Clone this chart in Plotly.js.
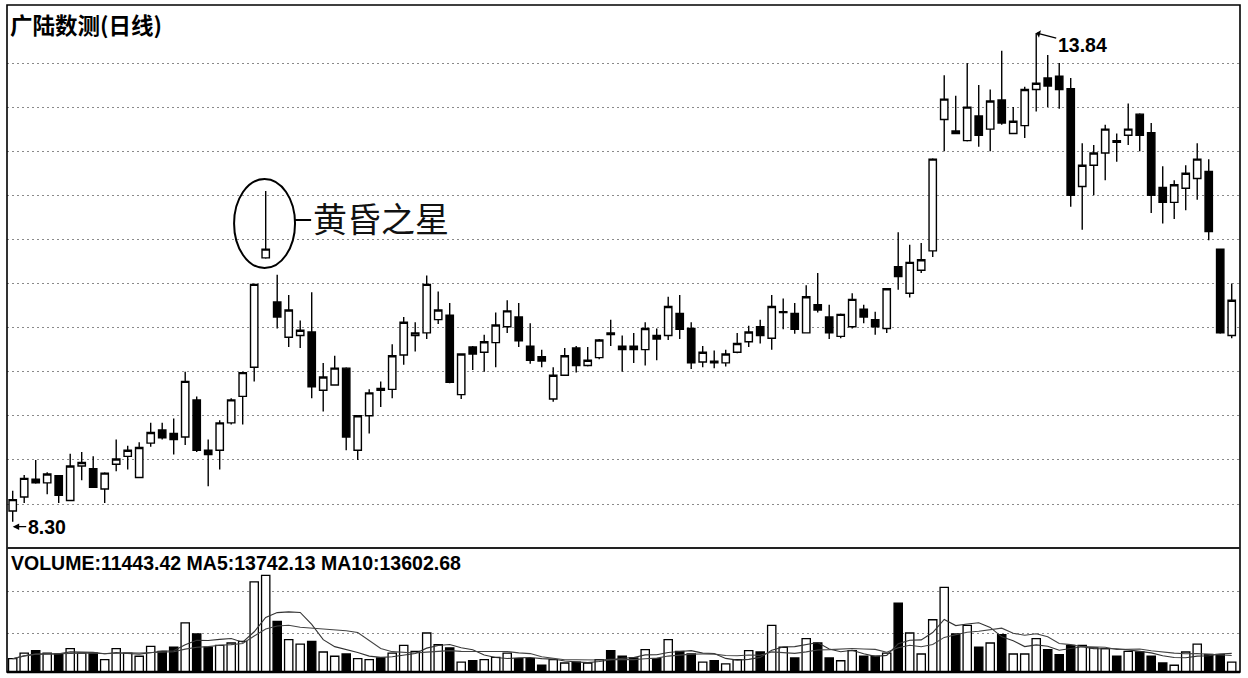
<!DOCTYPE html>
<html>
<head>
<meta charset="utf-8">
<script src="https://cdn.plot.ly/plotly-3.0.1.min.js"></script>
<style>
  html, body { margin: 0; padding: 0; background: #fff; }
  #chart { width: 1248px; height: 678px; }
</style>
</head>
<body>
<div id="chart"></div>
<script>
// ---- Data ----
const openP = [8.42,8.58,8.78,8.74,8.82,8.54,8.93,8.90,8.67,8.95,9.04,8.80,9.19,9.34,9.30,9.26,9.68,9.11,9.11,9.42,
  9.72,10.05,11.29,10.79,10.39,10.41,10.45,9.79,9.85,10.04,9.11,9.50,9.81,9.80,10.19,10.41,10.44,10.59,10.64,9.74,
  10.28,10.22,10.33,10.51,10.62,10.29,10.17,9.69,9.96,10.27,10.07,10.16,10.44,10.29,10.29,10.25,10.41,10.41,10.66,10.49,
  10.11,10.12,10.10,10.22,10.34,10.51,10.38,10.67,10.66,10.44,10.76,10.62,10.40,10.51,10.71,10.59,10.49,11.19,10.89,11.15,
  11.37,12.86,12.73,12.62,12.90,12.75,13.08,12.70,12.79,13.20,13.33,13.35,13.21,12.10,12.34,12.48,12.62,12.68,12.92,12.71,
  12.09,11.92,12.08,12.19,12.27,11.39,10.41];
const highP = [8.65,8.83,9.00,8.86,8.83,9.07,9.09,9.04,8.86,9.23,9.16,9.20,9.42,9.42,9.47,10.00,9.72,9.23,9.45,9.70,
  10.00,11.00,12.05,11.10,10.87,10.58,10.90,10.10,10.18,10.05,9.51,9.80,9.89,10.31,10.62,10.56,11.09,10.91,10.78,10.21,
  10.29,10.42,10.67,10.81,10.78,10.55,10.25,10.05,10.27,10.29,10.28,10.37,10.59,10.41,10.44,10.56,10.49,10.85,10.87,10.56,
  10.29,10.24,10.25,10.44,10.52,10.59,10.87,10.83,10.78,10.98,11.12,10.76,10.66,10.89,10.76,10.68,10.95,11.58,11.44,11.46,
  12.42,13.36,13.13,13.50,13.25,13.20,13.64,13.00,13.23,13.84,13.59,13.50,13.33,12.59,12.57,12.80,12.70,13.04,12.93,12.82,
  12.33,12.17,12.34,12.59,12.41,11.39,11.00];
const lowP = [8.30,8.51,8.73,8.61,8.51,8.53,8.77,8.68,8.51,8.87,8.89,8.80,9.15,9.23,9.06,9.17,9.09,8.70,8.89,9.40,
  9.40,9.89,11.28,10.49,10.28,10.27,9.70,9.55,9.84,9.11,9.00,9.30,9.60,9.70,10.08,10.23,10.37,10.54,9.87,9.69,
  10.02,10.00,10.05,10.44,10.28,10.09,10.05,9.66,9.95,9.99,10.06,10.14,10.29,10.00,10.10,10.07,10.13,10.36,10.37,10.03,
  10.05,10.04,10.06,10.21,10.28,10.32,10.25,10.48,10.43,10.44,10.67,10.37,10.38,10.49,10.55,10.42,10.44,10.93,10.84,11.12,
  11.30,12.50,12.70,12.61,12.55,12.50,12.80,12.70,12.65,12.95,13.00,12.98,11.87,11.61,12.00,12.17,12.38,12.57,12.50,11.80,
  11.68,11.73,11.83,11.95,11.49,10.43,10.38];
const closeP = [8.55,8.79,8.74,8.84,8.60,8.93,8.97,8.69,8.85,9.01,9.11,9.14,9.31,9.25,9.23,9.89,9.11,9.06,9.42,9.68,
  9.99,10.99,11.39,10.62,10.70,10.47,9.83,9.94,10.04,9.26,9.50,9.76,9.79,10.18,10.56,10.44,10.99,10.70,9.88,10.20,
  10.20,10.34,10.53,10.69,10.35,10.13,10.12,9.96,10.18,10.07,10.13,10.36,10.42,10.25,10.25,10.49,10.37,10.74,10.48,10.10,
  10.22,10.10,10.20,10.32,10.45,10.41,10.74,10.68,10.48,10.85,10.70,10.44,10.65,10.82,10.62,10.51,10.94,11.08,11.24,11.27,
  12.41,13.09,12.70,13.00,12.68,13.07,12.82,12.84,13.20,13.27,13.24,13.20,12.00,12.34,12.48,12.75,12.60,12.75,12.68,12.00,
  11.92,12.12,12.25,12.41,11.59,10.44,10.81];
const volume = [15200,21700,24400,21700,20600,26700,21700,21700,14100,26700,21700,18000,29400,23700,28300,56100,43500,28300,30500,33200,
  35100,103000,110600,58000,37000,32000,35100,22900,18000,20600,15200,14100,16000,21700,30500,23700,44600,31200,27500,11400,
  12900,14100,16800,21700,15200,15200,7700,14100,10300,11400,10300,14100,24400,18000,16000,25500,15200,37000,23700,20600,
  11400,12900,9200,14100,24400,22900,53400,28300,16000,38100,33200,16000,12900,24400,18000,18000,21700,78900,44600,20600,
  59800,96900,43500,53400,28300,33200,42700,20600,20600,38100,25500,19800,30500,30500,27500,26700,18000,23700,22900,18000,
  10300,7700,22900,32000,20200,20200,11400];
const priceGrid = [8.5,9.0,9.5,10.0,10.5,11.0,11.5,12.0,12.5,13.0,13.5];
const volGrid = [44600, 92200];
const titleText = "广陆数测(日线)";
const volLabel = "VOLUME:11443.42 MA5:13742.13 MA10:13602.68";
const starLabel = "黄昏之星";
const starIndex = 22;

// ---- derived ----
const days = openP.map((_, i) => i);
function movingAvg(arr, n) {
  return arr.map((_, i) => {
    const s = Math.max(0, i - n + 1);
    const w = arr.slice(s, i + 1);
    return w.reduce((a, b) => a + b, 0) / w.length;
  });
}
const ma5 = movingAvg(volume, 5);
const ma10 = movingAvg(volume, 10);
const upColors = days.map(i => closeP[i] > openP[i] ? '#ffffff' : '#000000');

let minLowIdx = 0, maxHighIdx = 0;
lowP.forEach((v, i) => { if (v < lowP[minLowIdx]) minLowIdx = i; });
highP.forEach((v, i) => { if (v > highP[maxHighIdx]) maxHighIdx = i; });

const traces = [
  {
    type: 'candlestick', x: days, open: openP, high: highP, low: lowP, close: closeP,
    xaxis: 'x', yaxis: 'y',
    increasing: { line: { color: '#000', width: 1.4 }, fillcolor: '#ffffff' },
    decreasing: { line: { color: '#000', width: 1.4 }, fillcolor: '#000000' },
    whiskerwidth: 0, hoverinfo: 'skip', showlegend: false
  },
  {
    type: 'bar', x: days, y: volume, xaxis: 'x', yaxis: 'y2', width: 0.72,
    marker: { color: upColors, line: { color: '#000', width: 1.3 } },
    hoverinfo: 'skip', showlegend: false
  },
  {
    type: 'scatter', mode: 'lines', x: days, y: ma5, xaxis: 'x', yaxis: 'y2',
    line: { color: '#333', width: 1.1 }, hoverinfo: 'skip', showlegend: false
  },
  {
    type: 'scatter', mode: 'lines', x: days, y: ma10, xaxis: 'x', yaxis: 'y2',
    line: { color: '#444', width: 1.1 }, hoverinfo: 'skip', showlegend: false
  }
];

const sepY = 0.18591;
const layout = {
  width: 1248, height: 678,
  margin: { l: 7, r: 8, t: 5, b: 6, pad: 0 },
  paper_bgcolor: '#ffffff', plot_bgcolor: '#ffffff',
  showlegend: false,
  bargap: 0.28,
  boxgap: 0.2,
  boxgroupgap: 0.2,
  xaxis: {
    range: [-0.4957, 106.72], showgrid: false, showticklabels: false, zeroline: false,
    showline: false, ticks: '', rangeslider: { visible: false }, fixedrange: true
  },
  yaxis: {
    domain: [sepY, 1], range: [8.0011, 14.1576], tickvals: priceGrid,
    showgrid: true, gridcolor: '#8a8a8a', gridwidth: 1, griddash: '2px,3px',
    showticklabels: false, zeroline: false, showline: false, ticks: '', fixedrange: true
  },
  yaxis2: {
    domain: [0, sepY], range: [0, 141856], tickvals: volGrid,
    showgrid: true, gridcolor: '#8a8a8a', gridwidth: 1, griddash: '2px,3px',
    showticklabels: false, zeroline: false, showline: false, ticks: '', fixedrange: true
  },
  shapes: [
    { type: 'rect', xref: 'paper', yref: 'paper', x0: 0, x1: 1, y0: 0, y1: 1,
      line: { color: '#000', width: 1.6 } },
    { type: 'line', xref: 'paper', yref: 'paper', x0: 0, x1: 1, y0: sepY, y1: sepY,
      line: { color: '#222', width: 2 } },
    { type: 'line', xref: 'paper', yref: 'paper', x0: 0, x1: 1, y0: 0, y1: 0,
      line: { color: '#000', width: 2.5 } },
    { type: 'circle', xref: 'x', yref: 'y',
      x0: starIndex - 2.75, x1: starIndex + 2.55,
      y0: lowP[starIndex] - 0.105, y1: highP[starIndex] + 0.135,
      line: { color: '#000', width: 2 } },
    { type: 'line', xref: 'x', yref: 'y',
      x0: starIndex + 2.55, x1: starIndex + 3.95,
      y0: 11.72, y1: 11.72, line: { color: '#000', width: 2 } }
  ],
  annotations: [
    { xref: 'paper', yref: 'paper', x: 0.0008, y: 0.9985, xanchor: 'left', yanchor: 'top',
      text: '<b>' + titleText + '</b>', showarrow: false,
      font: { family: 'Noto Sans CJK SC', size: 22.5, color: '#000' } },
    { xref: 'paper', yref: 'paper', x: 0.0020, y: 0.1825, xanchor: 'left', yanchor: 'top',
      text: '<b>' + volLabel + '</b>', showarrow: false,
      font: { family: 'Liberation Sans, Arial', size: 19.5, color: '#000' } },
    { xref: 'x', yref: 'y', x: minLowIdx, y: lowP[minLowIdx],
      text: '<b>' + lowP[minLowIdx].toFixed(2) + '</b>', showarrow: true,
      ax: 34, ay: 0, yshift: -5, arrowhead: 2, arrowsize: 1, arrowwidth: 1.3, arrowcolor: '#000', standoff: 0,
      font: { family: 'Liberation Sans, Arial', size: 19.5, color: '#000' } },
    { xref: 'x', yref: 'y', x: maxHighIdx, y: highP[maxHighIdx],
      text: '<b>' + highP[maxHighIdx].toFixed(2) + '</b>', showarrow: true,
      ax: 46, ay: 12, arrowhead: 1, arrowsize: 1, arrowwidth: 1.3, arrowcolor: '#000', standoff: 0,
      font: { family: 'Liberation Sans, Arial', size: 19.5, color: '#000' } },
    { xref: 'x', yref: 'y', x: starIndex + 3.95, y: 11.745, xanchor: 'left', yanchor: 'middle',
      text: starLabel, showarrow: false,
      font: { family: 'Noto Sans CJK SC', size: 34, color: '#111' } }
  ]
};

Plotly.newPlot('chart', traces, layout, { staticPlot: true, displayModeBar: false });
</script>
</body>
</html>
